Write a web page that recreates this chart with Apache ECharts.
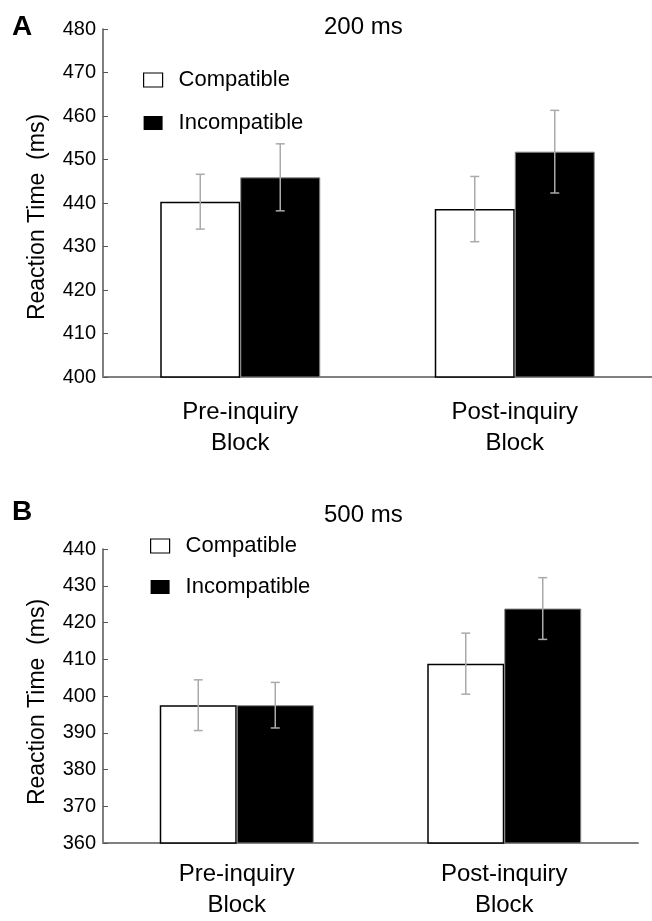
<!DOCTYPE html>
<html>
<head>
<meta charset="utf-8">
<script src="https://cdn.jsdelivr.net/npm/echarts@6/dist/echarts.min.js"></script>
<style>html,body{margin:0;padding:0;background:#fff}#c{width:652px;height:921px}</style>
</head>
<body>
<div id="c"></div>
<script>
var categories = ['Pre-inquiry\nBlock', 'Post-inquiry\nBlock'];
var seriesNames = ['Compatible', 'Incompatible'];
// Panel A (200 ms)
var aCompatible = [440.3, 438.6];
var aIncompatible = [445.9, 451.8];
var aCompatibleErr = [6.3, 7.5];
var aIncompatibleErr = [7.7, 9.5];
// Panel B (500 ms)
var bCompatible = [397.5, 408.8];
var bIncompatible = [397.5, 423.8];
var bCompatibleErr = [6.9, 8.3];
var bIncompatibleErr = [6.2, 8.4];
var panelTitles = ['200 ms', '500 ms'];
var panelLetters = ['A', 'B'];
var yAxisName = 'Reaction Time  (ms)';
var aRange = {min: 400, max: 480, interval: 10};
var bRange = {min: 360, max: 440, interval: 10};

var FONT = 'Liberation Sans, Arial, Helvetica, sans-serif';
var chart = echarts.init(document.getElementById('c'), null, {renderer: 'canvas'});

function errData(vals, errs) {
  return vals.map(function (v, i) { return [i, v - errs[i], v + errs[i]]; });
}
function errRender(sign, barW) {
  return function (params, api) {
    var lo = api.coord([api.value(0), api.value(1)]);
    var hi = api.coord([api.value(0), api.value(2)]);
    var cx = lo[0] + sign * barW / 2;
    var cap = 4.5;
    var st = {stroke: '#aaaaaa', lineWidth: 1.5};
    return {type: 'group', children: [
      {type: 'line', shape: {x1: cx, y1: lo[1], x2: cx, y2: hi[1]}, style: st},
      {type: 'line', shape: {x1: cx - cap, y1: hi[1], x2: cx + cap, y2: hi[1]}, style: st},
      {type: 'line', shape: {x1: cx - cap, y1: lo[1], x2: cx + cap, y2: lo[1]}, style: st}
    ]};
  };
}
function xAxisCfg(gi, margin) {
  return {
    type: 'category', gridIndex: gi, data: categories, boundaryGap: true,
    axisLine: {lineStyle: {color: '#808080', width: 2}},
    axisTick: {inside: true, length: 5, interval: 0, lineStyle: {color: '#555', width: 1}},
    axisLabel: {color: '#000', fontSize: 24, lineHeight: 31, fontFamily: FONT, margin: margin, interval: 0},
    splitLine: {show: false}
  };
}
function yAxisCfg(gi, r, pad) {
  return {
    type: 'value', gridIndex: gi, min: r.min, max: r.max, interval: r.interval,
    name: yAxisName, nameLocation: 'middle', nameGap: 54,
    nameTextStyle: {color: '#000', fontSize: 23, fontFamily: FONT, padding: pad},
    axisLine: {show: true, lineStyle: {color: '#555', width: 1.5}},
    axisTick: {show: true, inside: true, length: 5, lineStyle: {color: '#555', width: 1}},
    axisLabel: {color: '#000', fontSize: 20, fontFamily: FONT, margin: 7},
    splitLine: {show: false}
  };
}
var legendData = [
  {name: seriesNames[0], icon: 'rect', itemStyle: {color: '#fff', borderColor: '#000', borderWidth: 1.2}},
  {name: seriesNames[1], icon: 'rect', itemStyle: {color: '#000', borderWidth: 0}}
];
function legendCfg(left, top, gap) {
  return {
    data: legendData, orient: 'vertical', left: left, top: top, padding: 0,
    itemWidth: 19, itemHeight: 14, itemGap: gap, selectedMode: false,
    textStyle: {color: '#000', fontSize: 22, fontFamily: FONT, padding: [0, 0, 0, 11]}
  };
}
var barA = 80, barB = 77;
var option = {
  animation: false,
  backgroundColor: '#fff',
  title: [
    {text: panelTitles[0], left: 324, top: 15, padding: 0, textStyle: {fontSize: 24, fontWeight: 'normal', color: '#000', fontFamily: FONT}},
    {text: panelTitles[1], left: 324, top: 503, padding: 0, textStyle: {fontSize: 24, fontWeight: 'normal', color: '#000', fontFamily: FONT}},
    {text: panelLetters[0], left: 12, top: 13, padding: 0, textStyle: {fontSize: 28, fontWeight: 'bold', color: '#000', fontFamily: FONT}},
    {text: panelLetters[1], left: 12, top: 498, padding: 0, textStyle: {fontSize: 28, fontWeight: 'bold', color: '#000', fontFamily: FONT}}
  ],
  legend: [legendCfg(143, 69, 21), legendCfg(150, 535, 19)],
  grid: [
    {left: 103, top: 29, width: 559, height: 348, containLabel: false},
    {left: 103, top: 549, width: 535, height: 302, containLabel: false}
  ],
  xAxis: [xAxisCfg(0, 20), xAxisCfg(1, 16)],
  yAxis: [yAxisCfg(0, aRange, [0, 28, 0, 0]), yAxisCfg(1, bRange, [0, 12, 0, 0])],
  series: [
    {name: seriesNames[0], type: 'bar', xAxisIndex: 0, yAxisIndex: 0, data: aCompatible, barWidth: barA, barGap: '0%',
     itemStyle: {color: '#fff', borderColor: '#000', borderWidth: 1.5}},
    {name: seriesNames[1], type: 'bar', xAxisIndex: 0, yAxisIndex: 0, data: aIncompatible, barWidth: barA, barGap: '0%',
     itemStyle: {color: '#000', borderColor: '#888', borderWidth: 1}},
    {name: 'errA1', type: 'custom', xAxisIndex: 0, yAxisIndex: 0, data: errData(aCompatible, aCompatibleErr), renderItem: errRender(-1, barA), z: 5},
    {name: 'errA2', type: 'custom', xAxisIndex: 0, yAxisIndex: 0, data: errData(aIncompatible, aIncompatibleErr), renderItem: errRender(1, barA), z: 5},
    {name: seriesNames[0], type: 'bar', xAxisIndex: 1, yAxisIndex: 1, data: bCompatible, barWidth: barB, barGap: '0%',
     itemStyle: {color: '#fff', borderColor: '#000', borderWidth: 1.5}},
    {name: seriesNames[1], type: 'bar', xAxisIndex: 1, yAxisIndex: 1, data: bIncompatible, barWidth: barB, barGap: '0%',
     itemStyle: {color: '#000', borderColor: '#888', borderWidth: 1}},
    {name: 'errB1', type: 'custom', xAxisIndex: 1, yAxisIndex: 1, data: errData(bCompatible, bCompatibleErr), renderItem: errRender(-1, barB), z: 5},
    {name: 'errB2', type: 'custom', xAxisIndex: 1, yAxisIndex: 1, data: errData(bIncompatible, bIncompatibleErr), renderItem: errRender(1, barB), z: 5}
  ]
};
chart.setOption(option);
</script>
</body>
</html>
